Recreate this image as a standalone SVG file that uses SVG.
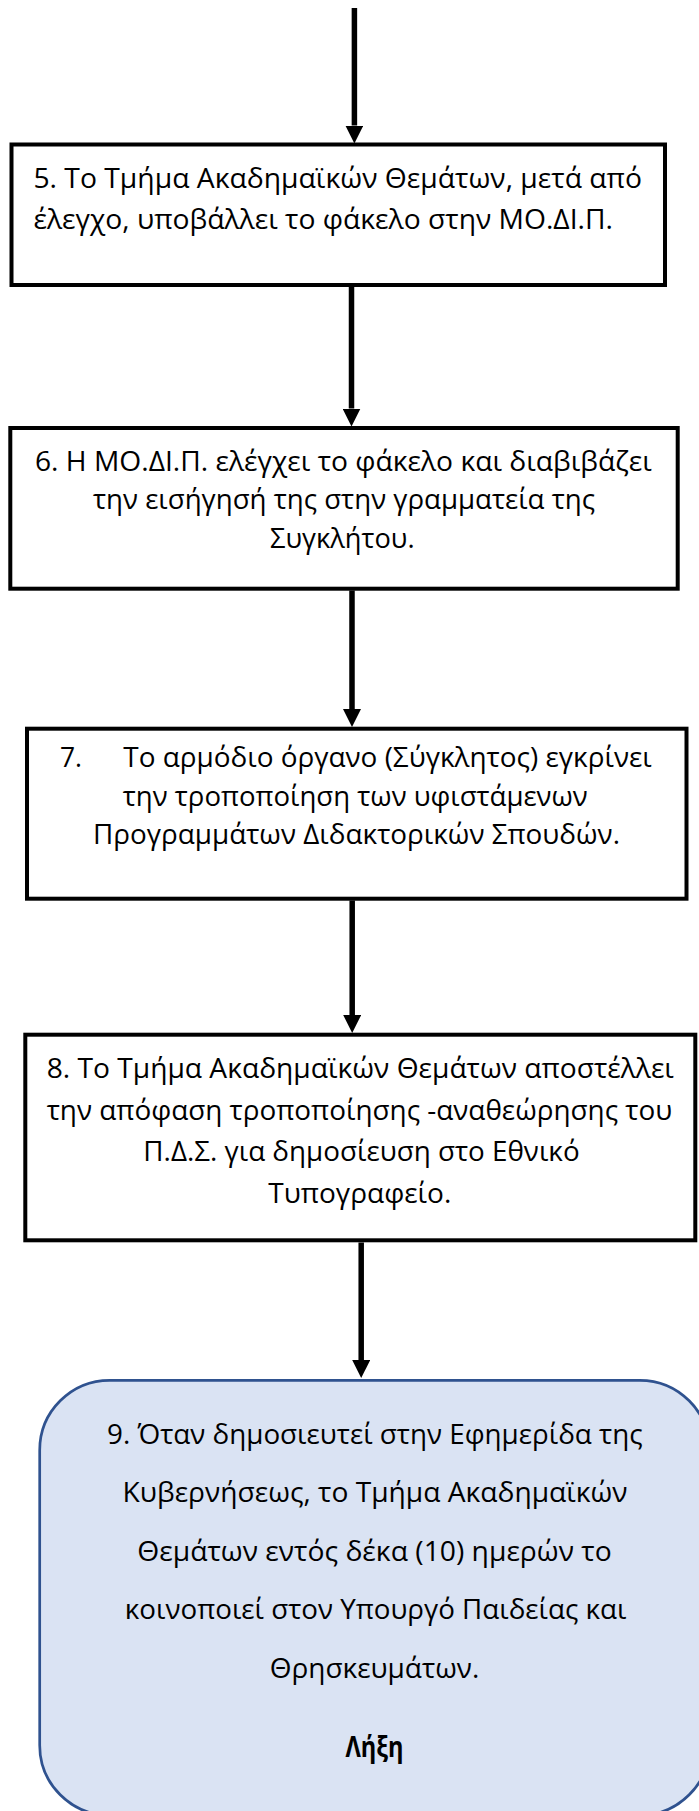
<svg xmlns="http://www.w3.org/2000/svg" width="699" height="1811" viewBox="0 0 699 1811">
<style>
.box{fill:#ffffff;stroke:#000000;stroke-width:4}
.term{fill:#DAE3F3;stroke:#2F528F;stroke-width:2.7}
.t{font-family:"Open Sans","Noto Sans","DejaVu Sans",sans-serif;font-size:28px;fill:#000000}
.c{text-anchor:middle}
.b{font-weight:bold}
.conn{stroke:#000000;stroke-width:5.5;fill:none;marker-end:url(#ah)}
</style>
<defs>
<marker id="ah" markerUnits="userSpaceOnUse" markerWidth="18" markerHeight="18" refX="0" refY="9" orient="auto" viewBox="0 0 18 18">
<path d="M0,0 L18,9 L0,18 z" fill="#000000"/>
</marker>
</defs>
<g id="node5">
<rect class="box" x="11.5" y="144.5" width="653.5" height="140.5"/>
<text class="t" x="33.4" y="188" textLength="608.6" lengthAdjust="spacingAndGlyphs">5. Το Τμήμα Ακαδημαϊκών Θεμάτων, μετά από</text>
<text class="t" x="33.4" y="228.5" textLength="579.6" lengthAdjust="spacingAndGlyphs">έλεγχο, υποβάλλει το φάκελο στην ΜΟ.ΔΙ.Π.</text>
</g>
<g id="node6">
<rect class="box" x="10.3" y="428" width="667.4" height="160.7"/>
<text class="t c" x="343.4" y="470.5" textLength="616.8" lengthAdjust="spacingAndGlyphs">6. Η ΜΟ.ΔΙ.Π. ελέγχει το φάκελο και διαβιβάζει</text>
<text class="t c" x="344" y="509" textLength="502" lengthAdjust="spacingAndGlyphs">την εισήγησή της στην γραμματεία της</text>
<text class="t c" x="342.3" y="547.5" textLength="144.6" lengthAdjust="spacingAndGlyphs">Συγκλήτου.</text>
</g>
<g id="node7">
<rect class="box" x="27" y="728.7" width="659.5" height="170"/>
<text class="t" x="60" y="767" textLength="22" lengthAdjust="spacingAndGlyphs">7.</text>
<text class="t" x="123.3" y="767" textLength="528.5" lengthAdjust="spacingAndGlyphs">Το αρμόδιο όργανο (Σύγκλητος) εγκρίνει</text>
<text class="t c" x="355.3" y="805.5" textLength="465" lengthAdjust="spacingAndGlyphs">την τροποποίηση των υφιστάμενων</text>
<text class="t c" x="356.5" y="844" textLength="527" lengthAdjust="spacingAndGlyphs">Προγραμμάτων Διδακτορικών Σπουδών.</text>
</g>
<g id="node8">
<rect class="box" x="25.3" y="1034.7" width="670" height="205.6"/>
<text class="t c" x="360.3" y="1078" textLength="627.3" lengthAdjust="spacingAndGlyphs">8. Το Τμήμα Ακαδημαϊκών Θεμάτων αποστέλλει</text>
<text class="t c" x="359.5" y="1119.5" textLength="625.6" lengthAdjust="spacingAndGlyphs">την απόφαση τροποποίησης -αναθεώρησης του</text>
<text class="t c" x="361.5" y="1161" textLength="436.3" lengthAdjust="spacingAndGlyphs">Π.Δ.Σ. για δημοσίευση στο Εθνικό</text>
<text class="t c" x="359.8" y="1202.5" textLength="183" lengthAdjust="spacingAndGlyphs">Τυπογραφείο.</text>
</g>
<g id="node9">
<rect class="term" x="39.7" y="1380.3" width="670" height="435" rx="70" ry="70"/>
<text class="t c" x="374.8" y="1443.5" textLength="535.6" lengthAdjust="spacingAndGlyphs">9. Όταν δημοσιευτεί στην Εφημερίδα της</text>
<text class="t c" x="375.1" y="1502" textLength="505" lengthAdjust="spacingAndGlyphs">Κυβερνήσεως, το Τμήμα Ακαδημαϊκών</text>
<text class="t c" x="374.5" y="1560.5" textLength="474.4" lengthAdjust="spacingAndGlyphs">Θεμάτων εντός δέκα (10) ημερών το</text>
<text class="t c" x="375.6" y="1619" textLength="501.6" lengthAdjust="spacingAndGlyphs">κοινοποιεί στον Υπουργό Παιδείας και</text>
<text class="t c" x="374.5" y="1677.5" textLength="209.6" lengthAdjust="spacingAndGlyphs">Θρησκευμάτων.</text>
<text class="t c b" x="374.5" y="1756.5" textLength="58" lengthAdjust="spacingAndGlyphs">Λήξη</text>
</g>
<g id="connectors">
<line class="conn" x1="354.4" y1="8" x2="354.4" y2="125.5"/>
<line class="conn" x1="351.5" y1="287" x2="351.5" y2="408.5"/>
<line class="conn" x1="352" y1="590.5" x2="352" y2="709"/>
<line class="conn" x1="352.2" y1="900.5" x2="352.2" y2="1015"/>
<line class="conn" x1="361.2" y1="1242.5" x2="361.2" y2="1360"/>
</g>
</svg>
